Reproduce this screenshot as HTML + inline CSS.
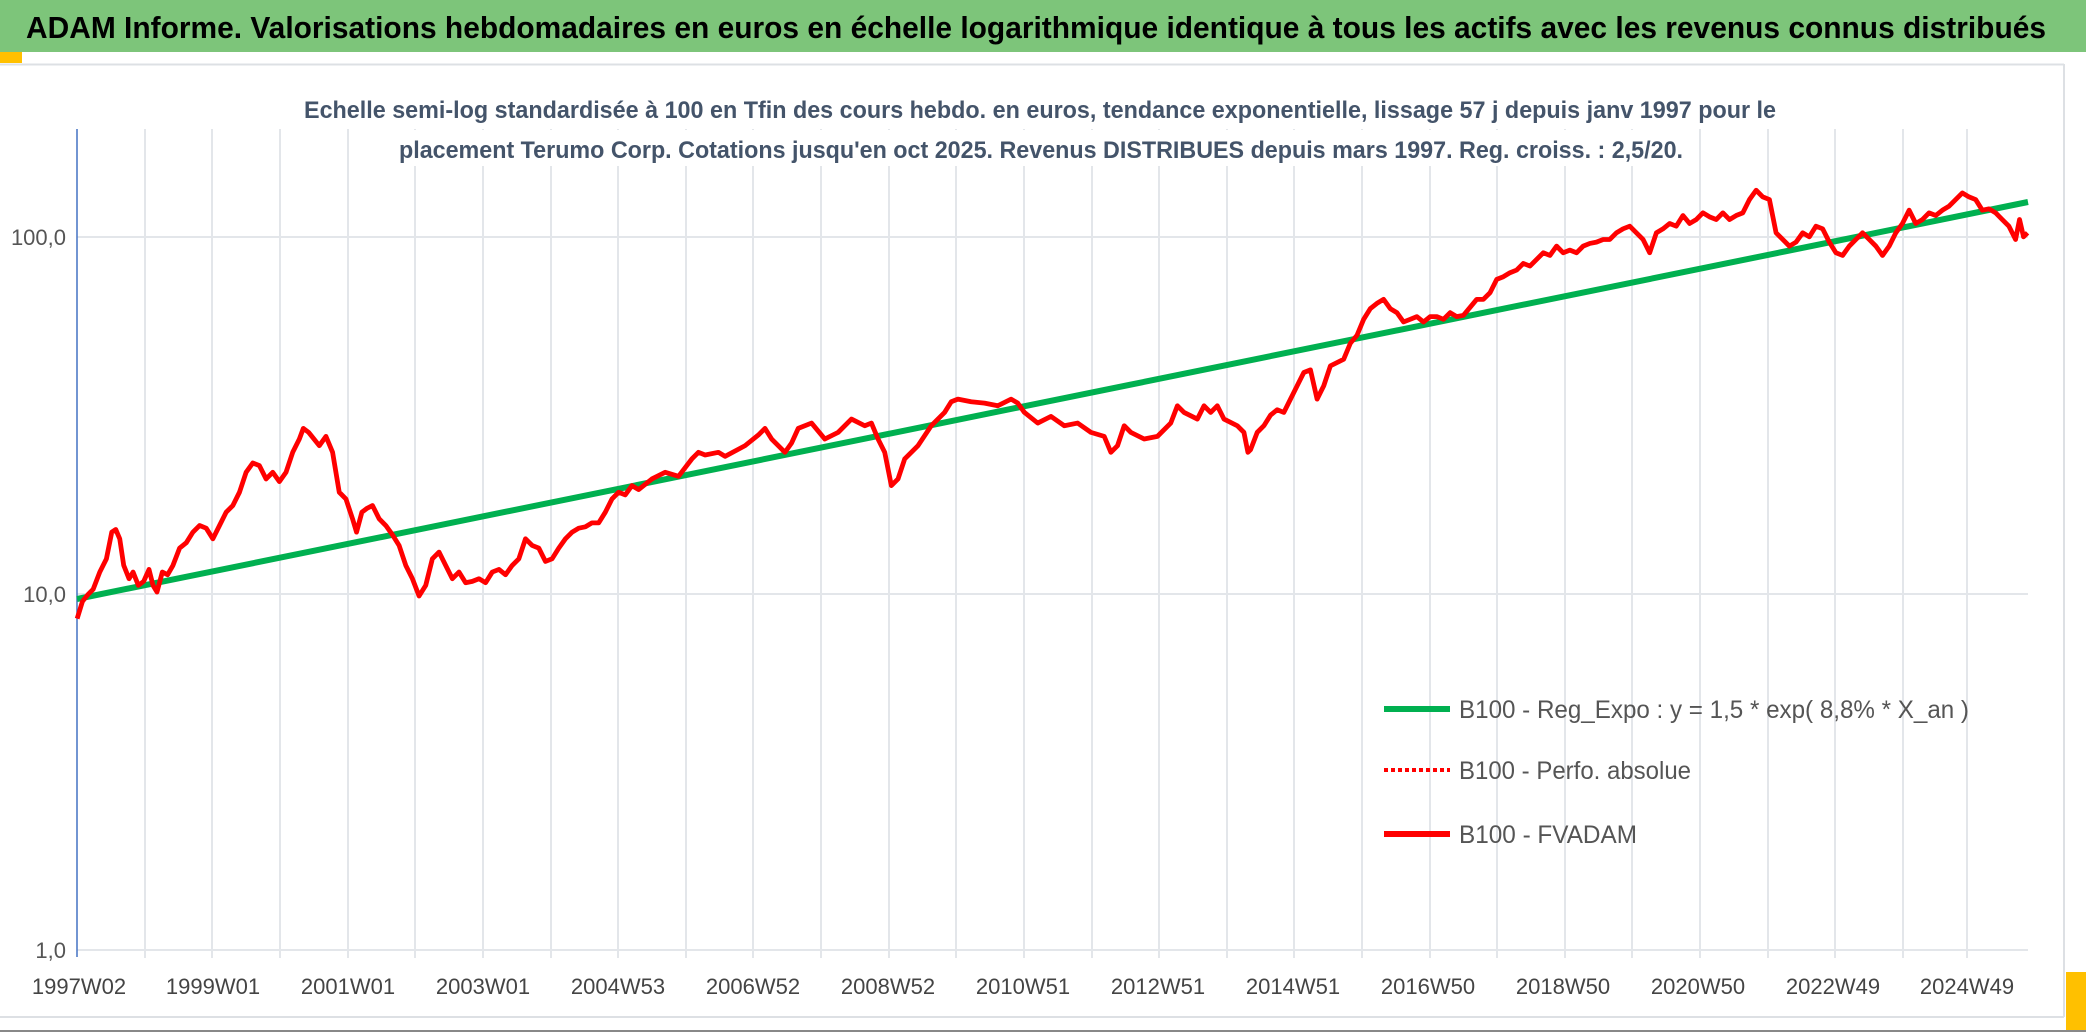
<!DOCTYPE html>
<html><head><meta charset="utf-8"><style>html,body{margin:0;padding:0;background:#fff}svg{display:block}</style></head>
<body>
<svg width="2086" height="1033" viewBox="0 0 2086 1033" xmlns="http://www.w3.org/2000/svg">
<rect x="0" y="0" width="2086" height="1033" fill="#fff"/>
<rect x="0" y="0" width="2086" height="52" fill="#7dc57a"/>
<text x="1036" y="38" text-anchor="middle" font-family="Liberation Sans Narrow, Liberation Sans, sans-serif" font-weight="bold" font-size="31" fill="#000" textLength="2020" lengthAdjust="spacingAndGlyphs">ADAM Informe. Valorisations hebdomadaires en euros en échelle logarithmique identique à tous les actifs avec les revenus connus distribués</text>
<rect x="0" y="52" width="22" height="11" fill="#ffc000"/>
<line x1="0" y1="64.5" x2="2064" y2="64.5" stroke="#dde0e4" stroke-width="2"/>
<line x1="2064" y1="64" x2="2064" y2="1017" stroke="#dde0e4" stroke-width="2"/>
<line x1="0" y1="1017" x2="2064" y2="1017" stroke="#dde0e4" stroke-width="2"/>
<rect x="2066" y="972" width="20" height="58" fill="#ffc000"/>
<line x1="0" y1="1031" x2="2086" y2="1031" stroke="#888" stroke-width="2"/>
<g stroke="#e3e6ea" stroke-width="2">
<line x1="77" y1="237" x2="2028" y2="237"/>
<line x1="77" y1="594" x2="2028" y2="594"/>
<line x1="77" y1="950" x2="2028" y2="950"/>
<line x1="145" y1="129" x2="145" y2="958"/><line x1="212" y1="129" x2="212" y2="958"/><line x1="280" y1="129" x2="280" y2="958"/><line x1="348" y1="129" x2="348" y2="958"/><line x1="415" y1="129" x2="415" y2="958"/><line x1="483" y1="129" x2="483" y2="958"/><line x1="551" y1="129" x2="551" y2="958"/><line x1="618" y1="129" x2="618" y2="958"/><line x1="686" y1="129" x2="686" y2="958"/><line x1="753" y1="129" x2="753" y2="958"/><line x1="821" y1="129" x2="821" y2="958"/><line x1="889" y1="129" x2="889" y2="958"/><line x1="956" y1="129" x2="956" y2="958"/><line x1="1024" y1="129" x2="1024" y2="958"/><line x1="1092" y1="129" x2="1092" y2="958"/><line x1="1159" y1="129" x2="1159" y2="958"/><line x1="1227" y1="129" x2="1227" y2="958"/><line x1="1294" y1="129" x2="1294" y2="958"/><line x1="1362" y1="129" x2="1362" y2="958"/><line x1="1430" y1="129" x2="1430" y2="958"/><line x1="1497" y1="129" x2="1497" y2="958"/><line x1="1565" y1="129" x2="1565" y2="958"/><line x1="1632" y1="129" x2="1632" y2="958"/><line x1="1700" y1="129" x2="1700" y2="958"/><line x1="1768" y1="129" x2="1768" y2="958"/><line x1="1835" y1="129" x2="1835" y2="958"/><line x1="1903" y1="129" x2="1903" y2="958"/><line x1="1967" y1="129" x2="1967" y2="958"/>
</g>
<rect x="395" y="130" width="1292" height="36" fill="#fff"/>
<g font-family="Liberation Sans Narrow, Liberation Sans, sans-serif" font-weight="bold" font-size="24" fill="#44546a" text-anchor="middle">
<text x="1040" y="118" textLength="1472" lengthAdjust="spacingAndGlyphs">Echelle semi-log standardisée à 100 en Tfin des cours hebdo. en euros, tendance exponentielle, lissage 57 j depuis janv 1997 pour le</text>
<text x="1041" y="158" textLength="1284" lengthAdjust="spacingAndGlyphs">placement Terumo Corp. Cotations jusqu'en oct 2025. Revenus DISTRIBUES depuis mars 1997. Reg. croiss. : 2,5/20.</text>
</g>
<line x1="77" y1="129" x2="77" y2="957" stroke="#4472c4" stroke-width="1.5"/>
<g font-family="Liberation Sans Narrow, Liberation Sans, sans-serif" font-size="22" fill="#555" text-anchor="end">
<text x="66" y="245">100,0</text>
<text x="66" y="602">10,0</text>
<text x="66" y="958">1,0</text>
</g>
<g font-family="Liberation Sans Narrow, Liberation Sans, sans-serif" font-size="22" fill="#444" text-anchor="middle">
<text x="79" y="994">1997W02</text><text x="213" y="994">1999W01</text><text x="348" y="994">2001W01</text><text x="483" y="994">2003W01</text><text x="618" y="994">2004W53</text><text x="753" y="994">2006W52</text><text x="888" y="994">2008W52</text><text x="1023" y="994">2010W51</text><text x="1158" y="994">2012W51</text><text x="1293" y="994">2014W51</text><text x="1428" y="994">2016W50</text><text x="1563" y="994">2018W50</text><text x="1698" y="994">2020W50</text><text x="1833" y="994">2022W49</text><text x="1967" y="994">2024W49</text>
</g>
<line x1="77" y1="599" x2="2028" y2="202" stroke="#00b050" stroke-width="6"/>
<g transform="scale(1.3304)">
<polyline fill="none" stroke="#ff0000" stroke-width="3.6" stroke-linejoin="round" points="58,465 62,452 66,447 70,443 75,430 80,420 84,400 87,398 90,405 93,425 97,435 100,430 104,440 108,437 112,428 115,440 118,445 122,430 126,432 130,425 135,412 140,408 145,400 150,395 155,397 160,405 165,395 170,385 175,380 180,370 185,355 190,348 195,350 200,360 205,355 210,362 215,355 220,340 225,330 228,322 232,325 236,330 240,335 245,328 250,340 255,370 260,375 265,390 268,400 272,385 276,382 280,380 285,390 290,395 295,402 300,410 305,425 310,435 315,448 320,440 325,420 330,415 335,425 340,435 345,430 350,438 355,437 360,435 365,438 370,430 375,428 380,432 385,425 390,420 395,405 400,410 405,412 410,422 415,420 420,412 425,405 430,400 435,397 440,396 445,393 450,393 455,385 460,375 465,370 470,372 475,365 480,368 490,360 500,355 510,358 520,345 525,340 530,342 540,340 545,343 560,335 570,327 575,322 580,330 590,340 595,333 600,322 610,318 620,330 630,325 640,315 650,320 655,318 660,330 665,340 670,365 675,360 680,345 690,335 700,320 705,315 710,310 715,302 720,300 730,302 740,303 750,305 760,300 765,303 770,310 780,318 790,313 800,320 810,318 820,325 830,328 835,340 840,335 845,320 850,325 860,330 870,328 880,318 885,305 890,310 900,315 905,305 910,310 915,305 920,315 930,320 935,325 938,340 940,338 945,325 950,320 955,312 960,308 965,310 970,300 975,290 980,280 985,278 990,300 995,290 1000,275 1010,270 1015,258 1020,252 1025,240 1030,232 1035,228 1040,225 1045,232 1050,235 1055,242 1060,240 1065,238 1070,242 1075,238 1080,238 1085,240 1090,235 1095,238 1100,237 1110,225 1115,225 1120,220 1125,210 1130,208 1135,205 1140,203 1145,198 1150,200 1155,195 1160,190 1165,192 1170,185 1175,190 1180,188 1185,190 1190,185 1195,183 1200,182 1205,180 1210,180 1215,175 1220,172 1225,170 1230,175 1235,180 1240,190 1245,175 1250,172 1255,168 1260,170 1265,162 1270,168 1275,165 1280,160 1285,163 1290,165 1295,160 1300,165 1305,162 1310,160 1315,150 1320,143 1325,148 1330,150 1335,175 1340,180 1345,185 1350,182 1355,175 1360,178 1365,170 1370,172 1375,182 1380,190 1385,192 1390,185 1395,180 1400,175 1405,180 1410,185 1415,192 1420,185 1425,175 1430,168 1435,158 1440,168 1445,165 1450,160 1455,162 1460,158 1465,155 1470,150 1475,145 1480,148 1485,150 1490,158 1495,157 1500,160 1505,165 1510,170 1515,180 1518,165 1521,178 1524,175"/>
</g>
<line x1="1384" y1="709" x2="1450" y2="709" stroke="#00b050" stroke-width="6"/>
<line x1="1384" y1="770" x2="1450" y2="770" stroke="#ff0000" stroke-width="4" stroke-dasharray="4 3"/>
<line x1="1384" y1="834" x2="1450" y2="834" stroke="#ff0000" stroke-width="6"/>
<g font-family="Liberation Sans Narrow, Liberation Sans, sans-serif" font-size="25" fill="#555">
<text x="1459" y="718" textLength="510" lengthAdjust="spacingAndGlyphs">B100 - Reg_Expo : y = 1,5 * exp( 8,8% *  X_an )</text>
<text x="1459" y="779" textLength="232" lengthAdjust="spacingAndGlyphs">B100 - Perfo. absolue</text>
<text x="1459" y="843" textLength="178" lengthAdjust="spacingAndGlyphs">B100 - FVADAM</text>
</g>
</svg>
</body></html>
